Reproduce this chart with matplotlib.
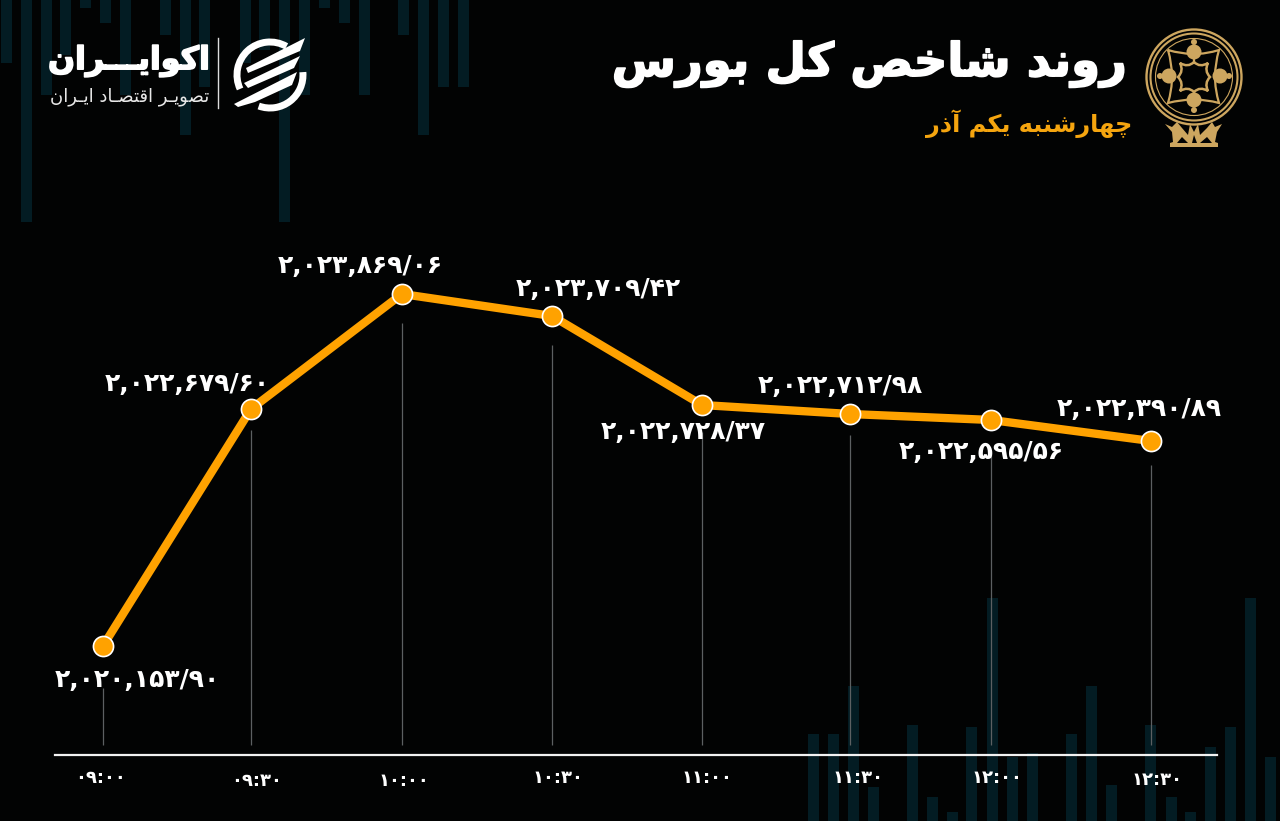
import matplotlib
matplotlib.use("Agg")
import matplotlib.pyplot as plt
import matplotlib.patheffects as pe
from matplotlib.patches import Polygon, Arc, Circle, PathPatch
from matplotlib.path import Path
from matplotlib.transforms import ScaledTranslation

times = ["۰۹:۰۰", "۰۹:۳۰", "۱۰:۰۰", "۱۰:۳۰", "۱۱:۰۰", "۱۱:۳۰", "۱۲:۰۰", "۱۲:۳۰"]
minutes = [540, 569.6, 599.8, 629.8, 659.8, 689.4, 717.6, 749.6]
index_drawn = [2020153, 2022655, 2023869, 2023637, 2022697, 2022602, 2022539, 2022317]
index_labels = ["۲,۰۲۰,۱۵۳/۹۰", "۲,۰۲۲,۶۷۹/۶۰", "۲,۰۲۳,۸۶۹/۰۶", "۲,۰۲۳,۷۰۹/۴۲",
                "۲,۰۲۲,۷۲۸/۳۷", "۲,۰۲۲,۷۱۲/۹۸", "۲,۰۲۲,۵۹۵/۵۶", "۲,۰۲۲,۳۹۰/۸۹"]

label_dx = [34, -64, -42, 46, -19, -10, -10, -12]
label_dy = [-34, 25, 28, 27, -27, 28, -32, 32]
stem_gap = [42, 21, 29, 29, 27, 21, 30, 24]
tick_dx = [-3, 6, 2, 6, 5, 8, 6, 6]
tick_dy = [0, 3, 3, 0, 0, 0, 0, 2]

top_bar_x = [6, 26, 46, 65, 85, 105, 125, 165, 185, 204, 245, 264, 284, 304, 324, 344, 364, 403, 423, 443, 463]
top_bar_end = [63, 222, 95, 55, 8, 23, 95, 35, 135, 87, 63, 50, 222, 95, 8, 23, 95, 35, 135, 87, 87]
low_bar_x = [813, 833, 853, 873, 912, 932, 952, 971, 992, 1012, 1032, 1071, 1091, 1111, 1150, 1171, 1190, 1210, 1230, 1250, 1270]
low_bar_top = [734, 734, 686, 787, 725, 797, 812, 727, 598, 757, 753, 734, 686, 785, 725, 797, 812, 747, 727, 598, 757]

ORANGE = "#ffa200"
GOLD = "#cda65f"
BARS = "#031c23"
BLACK = "#020303"

# no shaping in matplotlib, so pick the joined letter forms by hand
FORMS = {
    "ا": (0xFE8D, 0xFE8E), "آ": (0xFE81, 0xFE82), "د": (0xFEA9, 0xFEAA), "ذ": (0xFEAB, 0xFEAC),
    "ر": (0xFEAD, 0xFEAE), "و": (0xFEED, 0xFEEE),
    "ب": (0xFE8F, 0xFE90, 0xFE91, 0xFE92), "پ": (0xFB56, 0xFB57, 0xFB58, 0xFB59),
    "ت": (0xFE95, 0xFE96, 0xFE97, 0xFE98), "خ": (0xFEA5, 0xFEA6, 0xFEA7, 0xFEA8),
    "چ": (0xFB7A, 0xFB7B, 0xFB7C, 0xFB7D), "س": (0xFEB1, 0xFEB2, 0xFEB3, 0xFEB4),
    "ش": (0xFEB5, 0xFEB6, 0xFEB7, 0xFEB8), "ص": (0xFEB9, 0xFEBA, 0xFEBB, 0xFEBC),
    "ق": (0xFED5, 0xFED6, 0xFED7, 0xFED8), "ک": (0xFB8E, 0xFB8F, 0xFB90, 0xFB91),
    "ل": (0xFEDD, 0xFEDE, 0xFEDF, 0xFEE0), "م": (0xFEE1, 0xFEE2, 0xFEE3, 0xFEE4),
    "ن": (0xFEE5, 0xFEE6, 0xFEE7, 0xFEE8), "ه": (0xFEE9, 0xFEEA, 0xFEEB, 0xFEEC),
    "ی": (0xFBFC, 0xFBFD, 0xFBFE, 0xFBFF),
}


def shape(txt):
    out = []
    for i, c in enumerate(txt):
        if c not in FORMS:
            out.append(c)
            continue
        prev = txt[i - 1] if i else " "
        nxt = txt[i + 1] if i + 1 < len(txt) else " "
        f = FORMS[c]
        join_prev = prev == "ـ" or (prev in FORMS and len(FORMS[prev]) == 4)
        join_next = len(f) == 4 and (nxt == "ـ" or nxt in FORMS)
        if join_prev and join_next:
            out.append(chr(f[3]))
        elif join_prev:
            out.append(chr(f[1]))
        elif join_next:
            out.append(chr(f[2]))
        else:
            out.append(chr(f[0]))
    return "".join(out[::-1])


def curved(pts, ctrl, lw):
    # closed outline whose sides bend toward the control points
    verts = [pts[0]]
    codes = [Path.MOVETO]
    for i in range(len(pts)):
        verts += [ctrl[i], pts[(i + 1) % len(pts)]]
        codes += [Path.CURVE3, Path.CURVE3]
    bg.add_patch(PathPatch(Path(verts, codes), fc="none", ec=GOLD, lw=lw))


fig = plt.figure(figsize=(12.8, 8.21), dpi=100, facecolor=BLACK)

# background layer in pixel units
bg = fig.add_axes([0, 0, 1, 1], zorder=0)
bg.set_xlim(0, 1280)
bg.set_ylim(821, 0)
bg.axis("off")
bg.bar(top_bar_x, top_bar_end, width=11, bottom=0, color=BARS)
bg.bar(low_bar_x, [821 - t for t in low_bar_top], width=11, bottom=low_bar_top, color=BARS)

# main chart, baseline at y=755
ax = fig.add_axes([55 / 1280, (821 - 755) / 821, (1217 - 55) / 1280, (755 - 240) / 821], zorder=2)
ax.patch.set_alpha(0)
ax.set_xlim(530.4, 762.8)
ax.set_ylim(2019002, 2024439)
for s in ["top", "left", "right"]:
    ax.spines[s].set_visible(False)
ax.spines["bottom"].set_color("#f2f2f2")
ax.spines["bottom"].set_linewidth(1.6)
ax.set_yticks([])

units_per_px = (2024439 - 2019002) / 515
stem_low = 2019002 + 10 * units_per_px
ax.vlines(minutes, stem_low, [v - g * units_per_px for v, g in zip(index_drawn, stem_gap)],
          color="#5c6062", lw=0.9, zorder=1)
ax.plot(minutes, index_drawn, color=ORANGE, lw=6, solid_joinstyle="round", zorder=3)
ax.plot(minutes, index_drawn, "o", ms=14.5, mfc=ORANGE, mec="white", mew=1.2, zorder=4)

for i, lab in enumerate(index_labels):
    ax.annotate(lab, (minutes[i], index_drawn[i]), xytext=(label_dx[i], label_dy[i]),
                textcoords="offset pixels", ha="center", va="center",
                color="white", fontsize=18, fontweight="bold", zorder=5)

ax.set_xticks(minutes)
ax.set_xticklabels(times, color="white", fontsize=13, fontweight="bold")
ax.tick_params(axis="x", length=0, pad=10)
for i, t in enumerate(ax.get_xticklabels()):
    t.set_transform(t.get_transform() + ScaledTranslation(tick_dx[i] / 100, -tick_dy[i] / 100, fig.dpi_scale_trans))

# header, the original lettering is heavier than DejaVu Bold
heavy = [pe.withStroke(linewidth=1.2, foreground="white")]
bg.text(1127, 64, shape("روند شاخص کل بورس"), color="white", fontsize=33.5, fontweight="bold",
        ha="right", va="center", path_effects=heavy)
bg.text(1132, 124, shape("چهارشنبه یکم آذر"), color="#f5a50f", fontsize=17.3, fontweight="bold", ha="right", va="center")
bg.text(210, 61, shape("اکوایـــران"), color="white", fontsize=22.8, fontweight="bold",
        ha="right", va="center", path_effects=heavy)
bg.text(209, 97, shape("تصویـر اقتصـاد ایـران"), color="#e8e8e8", fontsize=13, ha="right", va="center")
bg.plot([218, 218], [38, 108], color="#dddddd", lw=1)

# logo
bg.add_patch(Arc((270, 75), 66, 66, theta1=155, theta2=300, color="white", lw=5))
bg.add_patch(Arc((270, 75), 66, 66, theta1=-5, theta2=110, color="white", lw=5))
for pts in [[(305, 38), (246, 68), (248, 73), (300, 51)],
            [(300, 56), (244, 83), (248, 88), (294, 68)],
            [(297, 72), (234, 104), (238, 107), (255, 102), (292, 85)]]:
    bg.add_patch(Polygon(pts, closed=True, fc="white", ec="none"))

# emblem
for r, lw in [(47.5, 1.7), (43.5, 1.5), (38.5, 0.8)]:
    bg.add_patch(Circle((1194, 77), r, fc="none", ec=GOLD, lw=lw))
curved([(1168, 50), (1219, 50), (1219, 103), (1168, 103)],
       [(1194, 58), (1211, 77), (1194, 96), (1176, 77)], 1.6)
curved([(1194, 62), (1208, 63), (1210, 77), (1208, 91), (1194, 92), (1180, 91), (1178, 77), (1180, 63)],
       [(1200, 68), (1204, 71), (1204, 83), (1200, 86), (1188, 86), (1184, 83), (1184, 71), (1188, 68)], 1.8)
for cx, cy, r in [(1194, 52, 7.5), (1194, 100, 7.5), (1169, 76, 7.5), (1220, 76, 7.5),
                  (1194, 42, 3), (1194, 110, 3), (1160, 76, 3), (1229, 76, 3)]:
    bg.add_patch(Circle((cx, cy), r, fc=GOLD, ec="none"))
bg.plot([1194, 1194], [58, 62], color=GOLD, lw=1.6)
bg.plot([1194, 1194], [92, 96], color=GOLD, lw=1.6)

# lions under the emblem
bg.add_patch(Polygon([(1165, 124), (1172, 127), (1177, 122), (1182, 128), (1188, 135), (1190, 124), (1194, 132),
                      (1198, 124), (1200, 135), (1207, 128), (1212, 122), (1215, 127), (1222, 124), (1217, 132),
                      (1215, 142), (1218, 143), (1218, 147), (1170, 147), (1170, 143), (1173, 142), (1172, 132)],
                     closed=True, fc=GOLD, ec="none"))
for pts in [[(1177, 143), (1182, 137), (1188, 143)], [(1200, 143), (1207, 137), (1212, 143)],
            [(1192, 143), (1194, 135), (1197, 143)]]:
    bg.add_patch(Polygon(pts, closed=True, fc=BLACK, ec="none"))

fig.savefig("out.png", dpi=100, facecolor=fig.get_facecolor())
